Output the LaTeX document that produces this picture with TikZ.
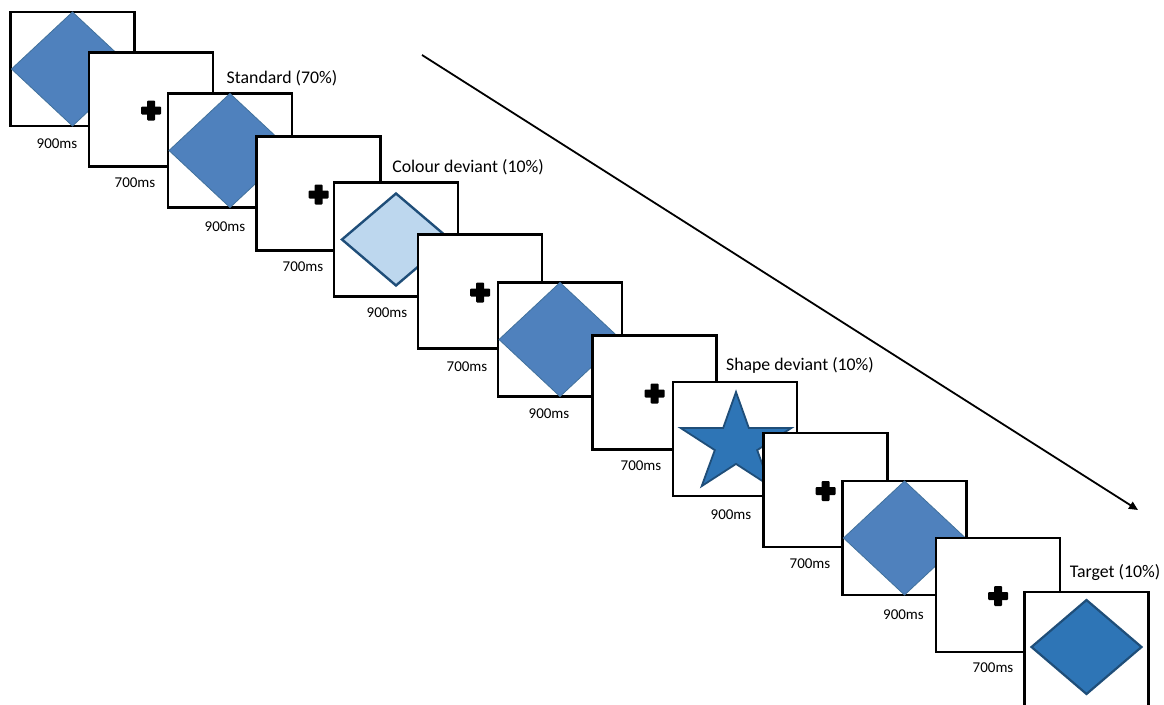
\documentclass[tikz,border=0pt]{standalone}
\usepackage{fontspec}
\setmainfont{Carlito}
\usetikzlibrary{arrows.meta}
\definecolor{stdfill}{HTML}{4F81BD}
\definecolor{stdline}{HTML}{41719C}
\definecolor{lightfill}{HTML}{BDD7EE}
\definecolor{darkline}{HTML}{1F4E79}
\definecolor{deepfill}{HTML}{2E75B6}
\tikzset{
  frame/.style={draw=black, fill=white, line width=2.8pt, minimum width=124pt, minimum height=114pt, inner sep=0pt},
  stddia/.style={fill=stdfill, draw=stdline, line width=0.8pt},
  lightdia/.style={fill=lightfill, draw=darkline, line width=2.4pt, line join=miter},
  deepshape/.style={fill=deepfill, draw=darkline, line width=1.8pt, line join=miter},
  timelbl/.style={font=\fontsize{15}{18}\selectfont, inner sep=0pt},
  catlbl/.style={font=\fontsize{17.8}{21}\selectfont, inner sep=0pt},
  fixcross/.style={fill=black, rounded corners=1pt},
}
\newcommand{\stddiamond}[1]{%
  \draw[stddia] (#1.center) ++(-61,0) -- ++(61,-57) -- ++(61,57) -- ++(-61,57) -- cycle;}
\newcommand{\fixation}[1]{%
  \begin{scope}[shift={(#1.center)}]
    \fill[fixcross] (-10,-4+1) rectangle (10,4+1);
    \fill[fixcross] (-4,-10+1) rectangle (4,10+1);
  \end{scope}}
\begin{document}
\begin{tikzpicture}[x=1pt,y=-1pt]
\useasboundingbox (0,0) rectangle (1164,704);
% frame 1
\node[frame] (f1) at (72.5,69) {};
\stddiamond{f1}
% frame 2
\node[frame] (f2) at (151,109.5) {};
\fixation{f2}
% frame 3
\node[frame] (f3) at (230,150.5) {};
\stddiamond{f3}
% frame 4
\node[frame] (f4) at (318.5,193.5) {};
\fixation{f4}
% frame 5 colour deviant
\node[frame] (f5) at (396,239.5) {};
\draw[lightdia] (f5.center) ++(-54,0) -- ++(54,-46) -- ++(54,46) -- ++(-54,46) -- cycle;
% frame 6
\node[frame] (f6) at (480,291.5) {};
\fixation{f6}
% frame 7
\node[frame] (f7) at (560,339.5) {};
\stddiamond{f7}
% frame 8
\node[frame] (f8) at (654.5,392.5) {};
\fixation{f8}
% frame 9 shape deviant
\node[frame] (f9) at (735,439) {};
\begin{scope}[shift={(f9.center)}, shift={(1,5)}]
  \draw[deepshape] (0,-52) -- (-12.8,-16.1) -- (-55.5,-16.1) -- (-21.2,6.1) -- (-34.3,42.1)
    -- (0,19.9) -- (34.3,42.1) -- (21.2,6.1) -- (55.5,-16.1) -- (12.8,-16.1) -- cycle;
\end{scope}
% frame 10
\node[frame] (f10) at (825.5,490) {};
\fixation{f10}
% frame 11
\node[frame] (f11) at (904.5,538) {};
\stddiamond{f11}
% frame 12
\node[frame] (f12) at (998,595) {};
\fixation{f12}
% frame 13 target (bottom edge runs off the page)
\node[frame] (f13) at (1086.5,649) {};
\draw[deepshape, line width=2.2pt] (f13.center) ++(-55,-2) -- ++(55,-47) -- ++(55,47) -- ++(-55,47) -- cycle;
% timing labels
\node[timelbl] (t1) at (57,144) {900ms};
\node[timelbl] (t2) at (135,183) {700ms};
\node[timelbl] (t3) at (225,227) {900ms};
\node[timelbl] (t4) at (303,267) {700ms};
\node[timelbl] (t5) at (387,313) {900ms};
\node[timelbl] (t6) at (467,367) {700ms};
\node[timelbl] (t7) at (549,414) {900ms};
\node[timelbl] (t8) at (641,466) {700ms};
\node[timelbl] (t9) at (731,515) {900ms};
\node[timelbl] (t10) at (810,564) {700ms};
\node[timelbl] (t11) at (903.5,615) {900ms};
\node[timelbl] (t12) at (993,668) {700ms};
% category labels
\node[catlbl] (c1) at (282,78) {Standard (70\%)};
\node[catlbl] (c2) at (468,167) {Colour deviant (10\%)};
\node[catlbl] (c3) at (800,365) {Shape deviant (10\%)};
\node[catlbl] (c4) at (1115,573) {Target (10\%)};
% time arrow
\coordinate (a0) at (422,55);
\coordinate (a1) at (1138,510);
\draw[line width=1.8pt, -{Triangle[length=9pt,width=8pt]}] (a0) -- (a1);
\end{tikzpicture}
\end{document}
